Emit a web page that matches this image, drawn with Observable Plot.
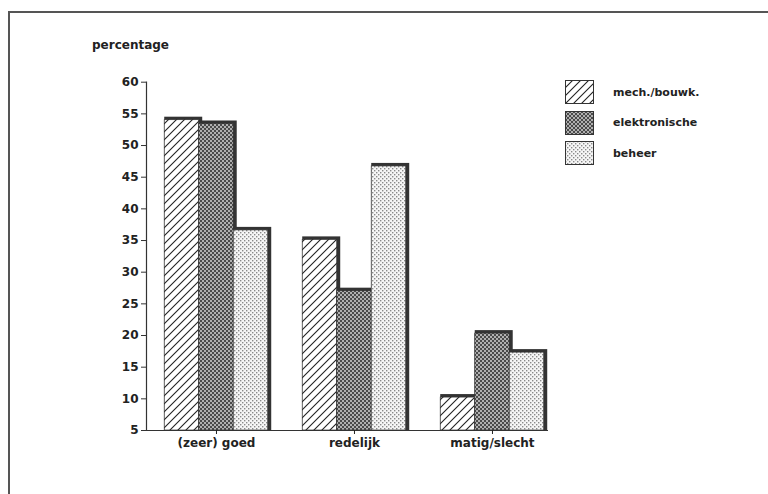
<!DOCTYPE html>
<html><head><meta charset="utf-8">
<script src="https://cdn.jsdelivr.net/npm/d3@7"></script>
<script src="https://cdn.jsdelivr.net/npm/@observablehq/plot@0.6"></script>
<style>
body{margin:0;background:#fff;}
#wrap{position:relative;width:768px;height:494px;overflow:hidden;font-family:"DejaVu Sans",sans-serif;font-weight:bold;color:#222;}
#border{position:absolute;left:8px;top:11px;right:-10px;bottom:-10px;border-top:2px solid #555;border-left:2px solid #555;}
#ylabel{position:absolute;left:92px;top:38px;font-size:12px;}
#legend{position:absolute;left:565px;top:80px;font-size:11px;}
.li{display:flex;align-items:center;height:24px;margin-bottom:6.5px;}
.li svg{display:block;margin-right:19px;}
#chart{position:absolute;left:0;top:0;}
</style></head><body>
<svg width="0" height="0" style="position:absolute">
  <defs>
    <pattern id="p-hatch" patternUnits="userSpaceOnUse" width="8" height="8">
      <rect width="8" height="8" fill="#fff"/>
      <path d="M0,8 L8,0 M-2,2 L2,-2 M6,10 L10,6" stroke="#222" stroke-width="1.1"/>
    </pattern>
    <pattern id="p-elek" patternUnits="userSpaceOnUse" width="4" height="4">
      <rect width="4" height="4" fill="#b0b0b0"/>
      <rect width="2" height="2" fill="#4a4a4a"/>
      <rect x="2" y="2" width="2" height="2" fill="#4a4a4a"/>
    </pattern>
    <pattern id="p-beheer" patternUnits="userSpaceOnUse" width="4" height="4">
      <rect width="4" height="4" fill="#f6f6f6"/>
      <rect width="1.4" height="1.4" fill="#8a8a8a"/>
      <rect x="2" y="2" width="1.4" height="1.4" fill="#8a8a8a"/>
    </pattern>
  </defs>
</svg>
<div id="wrap">
  <div id="border"></div>
  <div id="ylabel">percentage</div>
  <div id="chart"></div>
  <div id="legend"></div>
</div>
<script>
const categories = ["(zeer) goed", "redelijk", "matig/slecht"];
const seriesNames = ["mech./bouwk.", "elektronische", "beheer"];
const mech = [54, 35.1, 10.2];
const elek = [53.4, 27, 20.3];
const beheer = [36.6, 46.7, 17.3];
const yTicks = [5, 10, 15, 20, 25, 30, 35, 40, 45, 50, 55, 60];

const seriesValues = [mech, elek, beheer];
const fills = ["url(#p-hatch)", "url(#p-elek)", "url(#p-beheer)"];

// composite band keys: bars of each group plus a spacer between groups
const keys = [];
categories.forEach((c, ci) => {
  if (ci > 0) keys.push("gap" + ci);
  seriesNames.forEach((s, si) => keys.push(ci + "-" + si));
});
const tickKeys = categories.map((c, ci) => ci + "-1");

const marks = [];
seriesValues.forEach((vals, si) => {
  const d = categories.map((c, ci) => ({key: ci + "-" + si, value: vals[ci]}));
  marks.push(Plot.barY(d, {x: "key", y1: 5, y2: "value", fill: "#333", insetTop: -3, insetRight: -3.5}));
  marks.push(Plot.barY(d, {x: "key", y1: 5, y2: "value", fill: fills[si], stroke: "#333", strokeWidth: 0.7}));
});

const chart = Plot.plot({
  width: 768,
  height: 494,
  marginLeft: 146,
  marginRight: 220,
  marginTop: 81.7,
  marginBottom: 64,
  style: {fontFamily: "DejaVu Sans, sans-serif", fontSize: "12px", fontWeight: "bold", color: "#222", background: "transparent"},
  x: {domain: keys, paddingInner: 0, paddingOuter: 0.326, align: 0.81, round: false, axis: null},
  y: {domain: [5, 60], axis: null},
  marks: [
    ...marks,
    Plot.ruleY([5], {stroke: "#333", strokeWidth: 1.2, insetLeft: -4}),
    Plot.frame({anchor: "left", stroke: "#333", strokeWidth: 1.2}),
    Plot.axisY({ticks: yTicks, tickSize: 5, tickPadding: 3, label: null, stroke: "#333"}),
    Plot.axisX({ticks: tickKeys, tickFormat: k => categories[+k[0]], tickSize: 4, tickPadding: 4, label: null})
  ]
});
document.getElementById("chart").appendChild(chart);

const legend = document.getElementById("legend");
seriesNames.forEach((s, si) => {
  const item = document.createElement("div");
  item.className = "li";
  item.innerHTML = `<svg width="29" height="24"><rect x="0.5" y="0.5" width="28" height="23" fill="${fills[si]}" stroke="#333" stroke-width="1"/></svg><span>${s}</span>`;
  legend.appendChild(item);
});
</script>
</body></html>
